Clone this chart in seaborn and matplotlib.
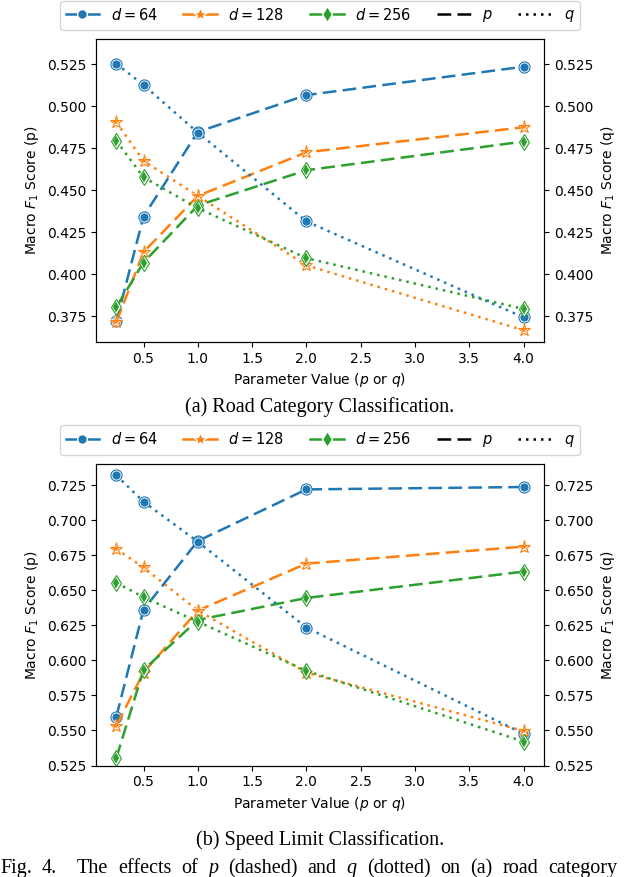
import matplotlib
matplotlib.use("Agg")
import matplotlib.pyplot as plt
from matplotlib.lines import Line2D
from matplotlib.text import Annotation
import seaborn as sns
import pandas as pd

# ---- data ----
params = [0.25, 0.5, 1.0, 2.0, 4.0]
dims = ["64", "128", "256"]

# (a) Road Category Classification
road_p_64 = [0.3718, 0.4343, 0.4847, 0.5067, 0.5236]
road_q_64 = [0.5254, 0.5127, 0.4843, 0.4314, 0.3742]
road_p_128 = [0.3714, 0.4131, 0.4466, 0.4726, 0.4875]
road_q_128 = [0.4905, 0.4675, 0.4466, 0.4052, 0.3665]
road_p_256 = [0.3804, 0.4069, 0.4409, 0.4619, 0.4790]
road_q_256 = [0.4794, 0.4577, 0.4393, 0.4095, 0.3792]

# (b) Speed Limit Classification
speed_p_64 = [0.5599, 0.6362, 0.6851, 0.7219, 0.7236]
speed_q_64 = [0.7319, 0.7131, 0.6846, 0.6234, 0.5476]
speed_p_128 = [0.5535, 0.5913, 0.6355, 0.6690, 0.6811]
speed_q_128 = [0.6794, 0.6663, 0.6355, 0.5913, 0.5497]
speed_p_256 = [0.5305, 0.5932, 0.6288, 0.6445, 0.6633]
speed_q_256 = [0.6554, 0.6450, 0.6276, 0.5925, 0.5421]

xticks = [0.5, 1.0, 1.5, 2.0, 2.5, 3.0, 3.5, 4.0]
road_yticks = [0.375, 0.400, 0.425, 0.450, 0.475, 0.500, 0.525]
speed_yticks = [0.525, 0.550, 0.575, 0.600, 0.625, 0.650, 0.675, 0.700, 0.725]

caption_a = "(a) Road Category Classification."
caption_b = "(b) Speed Limit Classification."
fig_caption_words = [("Fig.", False), ("4.", False), ("The", False), ("effects", False),
                     ("of", False), ("p", True), ("(dashed)", False), ("and", False),
                     ("q", True), ("(dotted)", False), ("on", False), ("(a)", False),
                     ("road", False), ("category", False)]

colors = ["#1f77b4", "#ff7f0e", "#2ca02c"]
markers = ["o", "*", "d"]
msizes = [7, 8.5, 7]
legend_msizes = [7, 10, 8]
DASH = (0, (5.5, 2.5))
DOT = (0, (1, 2.0))

plt.rcParams["font.family"] = ["DejaVu Sans"]
plt.rcParams["font.size"] = 10

fig = plt.figure(figsize=(6.4, 8.77), dpi=100)
ax_a = fig.add_axes([0.15, 0.6100, 0.70, 0.3455])
ax_b = fig.add_axes([0.15, 0.1271, 0.70, 0.3438])


def draw_panel(ax, p_series, q_series, ylim, yticks):
    ax2 = ax.twinx()
    for i, (ps, qs) in enumerate(zip(p_series, q_series)):
        df = pd.DataFrame({"x": params, "p": ps, "q": qs})
        for target, col, ls in ((ax, "p", DASH), (ax2, "q", DOT)):
            sns.lineplot(data=df, x="x", y=col, ax=target, color=colors[i],
                         linestyle=ls, linewidth=1.8, marker=markers[i],
                         markersize=msizes[i], markerfacecolor=colors[i],
                         markeredgecolor="white", markeredgewidth=1.1)
            target.plot(df["x"], df[col], linestyle="none", marker=markers[i],
                        markersize=msizes[i] + 1.0, markerfacecolor="none",
                        markeredgecolor=colors[i], markeredgewidth=0.8)
    for a in (ax, ax2):
        a.set_ylim(*ylim)
        a.set_yticks(yticks)
        a.set_yticklabels([f"{t:.3f}" for t in yticks])
    ax.set_xlim(0.0625, 4.1875)
    ax.set_xticks(xticks)
    ax.set_xticklabels([f"{t:.1f}" for t in xticks])
    ax.set_xlabel("Parameter Value ($p$ or $q$)")
    ax.set_ylabel("Macro $F_1$ Score (p)")
    ax2.set_ylabel("Macro $F_1$ Score (q)")
    ax2.set_xlabel("")


draw_panel(ax_a, [road_p_64, road_p_128, road_p_256],
           [road_q_64, road_q_128, road_q_256], (0.3595, 0.5401), road_yticks)
draw_panel(ax_b, [speed_p_64, speed_p_128, speed_p_256],
           [speed_q_64, speed_q_128, speed_q_256], (0.525, 0.740), speed_yticks)

handles = []
for i, d in enumerate(dims):
    handles.append(Line2D([], [], color=colors[i], linewidth=1.8, marker=markers[i],
                          markersize=legend_msizes[i], markerfacecolor=colors[i],
                          markeredgecolor="white", markeredgewidth=1.0,
                          label=f"$d = {d}$"))
handles.append(Line2D([], [], color="black", linestyle=DASH, linewidth=1.8, label="$p$"))
handles.append(Line2D([], [], color="black", linestyle=DOT, linewidth=1.8, label="$q$"))

for yc in (1 - 15.5 / 877, 1 - 440 / 877):
    fig.legend(handles=handles, loc="center", bbox_to_anchor=(0.5, yc), ncol=5,
               fontsize=10.5, handlelength=2.3, columnspacing=1.75, frameon=True)

serif = ["Liberation Serif", "DejaVu Serif"]
fig.text(0.5, 1 - 407 / 877, caption_a, ha="center", va="center",
         family=serif, fontsize=14.5)
fig.text(0.5, 1 - 840.5 / 877, caption_b, ha="center", va="center",
         family=serif, fontsize=14.5)

# "Fig. 4." caption line, justified-looking, partially cut by the bottom edge
prev = fig.text(0.0, 4 / 877, fig_caption_words[0][0], ha="left", va="baseline",
                family=serif, fontsize=14.5)
for k, (word, ital) in enumerate(fig_caption_words[1:], start=1):
    gap = 14 if k == 2 else 7.2
    prev = fig.add_artist(Annotation(word, xy=(1, 0), xycoords=prev,
                                     xytext=(gap, 0), textcoords="offset points",
                                     va="bottom", ha="left", family=serif,
                                     fontsize=14.5, style="italic" if ital else "normal"))

fig.savefig("out.png", dpi=100)
